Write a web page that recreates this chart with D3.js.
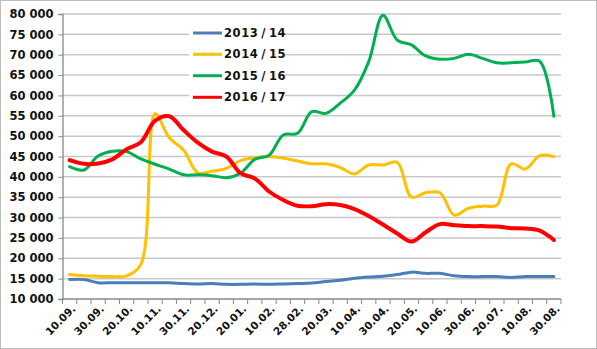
<!DOCTYPE html>
<html><head><meta charset="utf-8">
<script src="https://cdn.jsdelivr.net/npm/d3@7"></script>
<style>
html,body{margin:0;padding:0;background:#fff;}
svg{display:block;font-family:"DejaVu Sans",Verdana,sans-serif;}
</style></head>
<body>
<svg id="chart" width="597" height="349"></svg>
<script>
const categories = ["10.09.","20.09.","30.09.","10.10.","20.10.","30.10.","10.11.","20.11.","30.11.","10.12.","20.12.","10.01.","20.01.","30.01.","10.02.","20.02.","28.02.","10.03.","20.03.","30.03.","10.04.","20.04.","30.04.","10.05.","20.05.","30.05.","10.06.","20.06.","30.06.","10.07.","20.07.","30.07.","10.08.","20.08.","30.08."];
const s2013 = [14800,14800,14000,14000,14000,14000,14000,14000,13800,13700,13800,13600,13600,13700,13600,13700,13800,13900,14300,14600,15100,15400,15600,16000,16600,16300,16300,15700,15500,15500,15500,15300,15500,15500,15500];
const s2014 = [16000,15700,15600,15500,15700,18500,55500,49600,46600,41000,41400,42100,44000,44700,45000,44600,43900,43200,43200,42300,40700,42900,42900,43600,35000,36100,36100,30600,32300,32800,33100,43200,41900,45200,45000];
const s2015 = [42500,41700,45100,46300,46200,44400,43100,41900,40500,40500,40300,39800,40900,44300,45300,50300,50700,56000,55600,58100,61300,68300,79700,73600,72400,69700,68900,69100,70100,69100,68000,68000,68200,68400,54900];
const s2016 = [44100,43200,43300,44300,46800,48500,53800,54900,51500,48400,46200,45000,40900,39600,36400,34300,32900,32800,33300,33100,32100,30400,28300,26100,24100,26400,28400,28100,27900,27900,27800,27400,27300,26800,24500];
const seriesNames = ["2013/14","2014/15","2015/16","2016/17"];
const seriesColors = ["#4a7ebb","#ffc000","#00b050","#ff0000"];
const yTicks = [10000,15000,20000,25000,30000,35000,40000,45000,50000,55000,60000,65000,70000,75000,80000];

(function(){
const svg = d3.select("#chart");
const W = 597, H = 349;
const mLeft = 62.5, mRight = 561, mTop = 14, mBottom = 299;

svg.append("rect").attr("x",0.5).attr("y",0.5).attr("width",W-1).attr("height",H-1)
  .attr("fill","#fff").attr("stroke","#bdbdbd");

const x = d3.scaleBand().domain(categories).range([mLeft,mRight]).padding(0);
const y = d3.scaleLinear().domain([10000,80000]).range([mBottom,mTop]);
const cx = c => x(c) + x.bandwidth()/2;

// gridlines
svg.append("g").selectAll("line").data(yTicks.slice(1)).join("line")
  .attr("x1",mLeft).attr("x2",mRight).attr("y1",d=>y(d)).attr("y2",d=>y(d))
  .attr("stroke","#c8c8c8").attr("stroke-width",1.5);

// y axis
const yAxis = d3.axisLeft(y).tickValues(yTicks).tickSize(4).tickPadding(5)
  .tickFormat(d => d3.format(",")(d).replace(/,/g," "));
const gy = svg.append("g").attr("transform",`translate(${mLeft},0)`).call(yAxis);
gy.select(".domain").attr("stroke","#888").attr("stroke-width",1.3);
gy.selectAll(".tick line").attr("stroke","#888");
gy.selectAll("text").attr("font-size",11.5).attr("font-weight","bold").attr("fill","#111")
  .attr("font-family","'DejaVu Sans',Verdana,sans-serif");

// x axis
const gx = svg.append("g").attr("transform",`translate(0,${mBottom})`);
gx.append("line").attr("x1",mLeft).attr("x2",mRight).attr("stroke","#888").attr("stroke-width",1.3);
const bounds = categories.map(c=>x(c)).concat([mRight]);
gx.selectAll("line.tk").data(bounds).join("line").attr("class","tk")
  .attr("x1",d=>d).attr("x2",d=>d).attr("y1",0).attr("y2",5).attr("stroke","#888");
gx.selectAll("text").data(categories.filter((c,i)=>i%2===0)).join("text")
  .attr("transform",c=>`translate(${cx(c)+4},${8}) rotate(-45)`)
  .attr("text-anchor","end").attr("dy","0.35em")
  .attr("font-size",10.5).attr("font-weight","bold").attr("fill","#111")
  .text(c=>c);

// lines
const allSeries = [s2013,s2014,s2015,s2016];
const widths = [3,3,3,4];
const line = d3.line().x((d,i)=>cx(categories[i])).y(d=>y(d)).curve(d3.curveCatmullRom.alpha(0.5));
allSeries.forEach((s,k)=>{
  svg.append("path").datum(s).attr("d",line).attr("fill","none")
    .attr("stroke",seriesColors[k]).attr("stroke-width",widths[k])
    .attr("stroke-linejoin","round").attr("stroke-linecap","round");
});

// legend
const lg = svg.append("g");
lg.append("rect").attr("x",189).attr("y",22).attr("width",96).attr("height",86).attr("fill","#fff");
const rows = [33,54.3,75.7,97.3];
seriesNames.forEach((n,k)=>{
  lg.append("line").attr("x1",193).attr("x2",222).attr("y1",rows[k]).attr("y2",rows[k])
    .attr("stroke",seriesColors[k]).attr("stroke-width",3);
  lg.append("text").attr("x",224).attr("y",rows[k]).attr("dy","0.36em")
    .attr("font-size",11.5).attr("font-weight","bold").attr("fill","#111")
    .attr("letter-spacing",0.6).text(n.replace("/","\u2009/\u2009"));
});
})();
</script>
</body></html>
